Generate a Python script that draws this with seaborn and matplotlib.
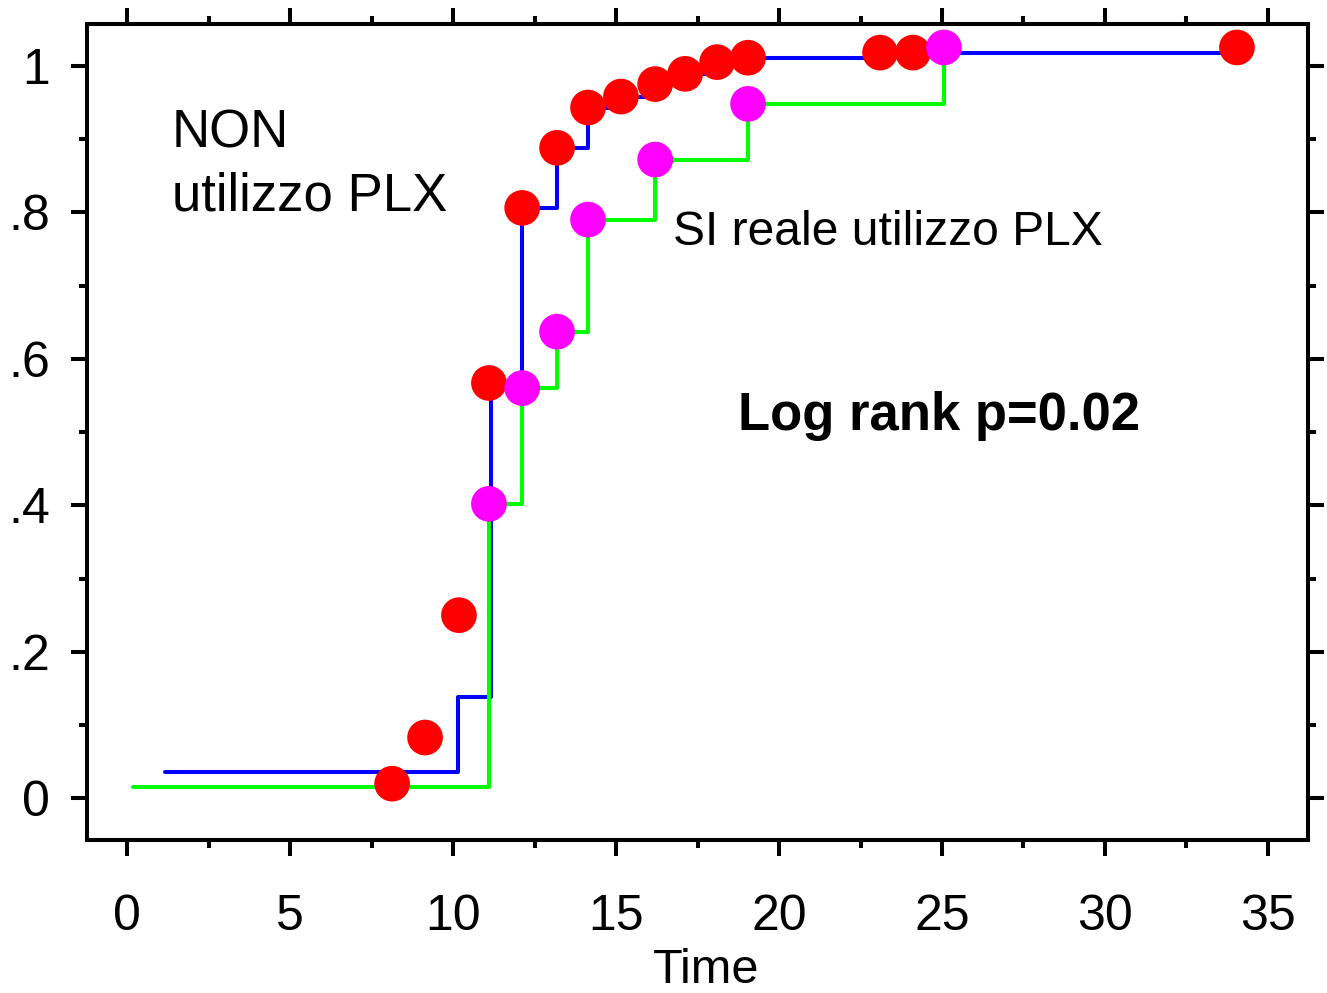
import matplotlib
matplotlib.use("Agg")
import matplotlib.pyplot as plt
from matplotlib.ticker import FixedLocator, FixedFormatter, MultipleLocator
import seaborn as sns

# step curves
non_step_t = [1.15, 10.15, 11.15, 12.12, 13.19, 14.14, 15.15, 16.2, 17.12, 18.1, 19.05, 23.1, 34.05]
non_step_y = [0.036, 0.138, 0.567, 0.806, 0.888, 0.943, 0.958, 0.975, 0.989, 1.005, 1.011, 1.018, 1.018]
si_step_t = [0.18, 11.1, 12.12, 13.19, 14.14, 16.2, 19.05, 25.06]
si_step_y = [0.015, 0.402, 0.560, 0.637, 0.790, 0.872, 0.948, 1.025]

# event points
non_t = [8.13, 9.14, 10.18, 11.1, 12.12, 13.19, 14.14, 15.15, 16.2, 17.12, 18.1, 19.05, 23.1, 24.11, 34.05]
non_y = [0.020, 0.083, 0.250, 0.567, 0.806, 0.888, 0.943, 0.958, 0.975, 0.989, 1.005, 1.011, 1.018, 1.018, 1.025]
si_t = [11.1, 12.12, 13.19, 14.14, 16.2, 19.05, 25.06]
si_y = [0.402, 0.560, 0.637, 0.790, 0.872, 0.948, 1.025]

y_ticks = [0, 0.2, 0.4, 0.6, 0.8, 1.0]
y_labels = ["0", ".2", ".4", ".6", ".8", "1"]
x_ticks = [0, 5, 10, 15, 20, 25, 30, 35]

sns.set_style("ticks")
plt.rcParams['font.family'] = ['Liberation Sans', 'DejaVu Sans']
plt.rcParams['text.color'] = 'black'
plt.rcParams['axes.labelcolor'] = 'black'
plt.rcParams['xtick.color'] = 'black'
plt.rcParams['ytick.color'] = 'black'

fig = plt.figure(figsize=(13.27, 9.93), dpi=100)
ax = fig.add_axes([0.0656, 0.154, 0.9201, 0.8218])

lw = 2.9
sns.lineplot(x=non_step_t, y=non_step_y, drawstyle='steps-post', color='#0000ff',
             lw=lw, estimator=None, sort=False, ax=ax, zorder=2)
sns.lineplot(x=si_step_t, y=si_step_y, drawstyle='steps-post', color='#00ff00',
             lw=lw, estimator=None, sort=False, ax=ax, zorder=2)
sns.scatterplot(x=non_t, y=non_y, color='#ff0000', s=660, edgecolor='none', ax=ax, zorder=3)
sns.scatterplot(x=si_t, y=si_y, color='#ff00ff', s=660, edgecolor='none', ax=ax, zorder=4)

ax.set_xlim(-1.23, 36.23)
ax.set_ylim(-0.057, 1.057)

ax.xaxis.set_major_locator(FixedLocator(x_ticks))
ax.xaxis.set_minor_locator(MultipleLocator(2.5))
ax.yaxis.set_major_locator(FixedLocator(y_ticks))
ax.yaxis.set_major_formatter(FixedFormatter(y_labels))
ax.yaxis.set_minor_locator(MultipleLocator(0.1))

for s in ax.spines.values():
    s.set_linewidth(2.9)
    s.set_color('black')

ax.tick_params(which='both', direction='out', top=True, right=True, width=2.9,
               color='black', labelcolor='black')
ax.tick_params(which='major', length=11.5)
ax.tick_params(which='minor', length=5.8)
ax.tick_params(axis='x', which='major', labelsize=36, pad=27)
ax.tick_params(axis='y', which='major', labelsize=36, pad=15)

ax.set_xlabel('Time', fontsize=35)
ax.xaxis.set_label_coords(0.507, -0.132)
ax.xaxis.label.set_va('top')
ax.set_ylabel('')

ax.text(1.38, 0.889, 'NON', fontsize=38, va='baseline', ha='left')
ax.text(1.38, 0.802, 'utilizzo PLX', fontsize=38, va='baseline', ha='left')
ax.text(16.75, 0.755, 'SI reale utilizzo PLX', fontsize=34.6, va='baseline', ha='left')
ax.text(18.74, 0.503, 'Log rank p=0.02', fontsize=37.9, fontweight='bold', va='baseline', ha='left')

fig.savefig('out.png', dpi=100)
